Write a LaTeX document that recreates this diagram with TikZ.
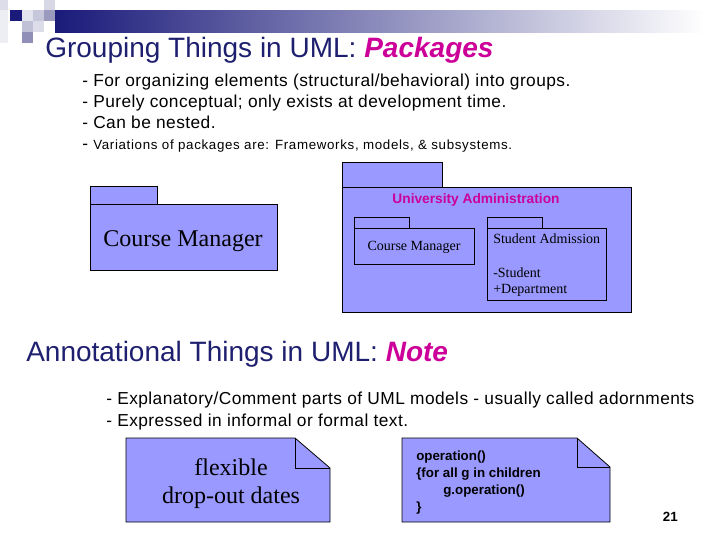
\documentclass[tikz,border=0pt]{standalone}
\usepackage{fontspec}
\setmainfont{Liberation Serif}
\setsansfont{Liberation Sans}
\definecolor{pkgfill}{HTML}{9999FF}
\definecolor{hilite}{HTML}{CC0099}
\definecolor{headblue}{HTML}{1F1F70}
\definecolor{barblue}{HTML}{1A1A7A}
\begin{document}
\begin{tikzpicture}[x=0.75pt,y=-0.75pt,
        pkg/.style={draw=black,fill=pkgfill,line width=0.6pt},
        headline/.style={anchor=base west,inner sep=0pt,text=headblue,font=\sffamily\fontsize{21}{24}\selectfont},
        bullet/.style={anchor=base west,inner sep=0pt,font=\sffamily\fontsize{13}{15}\selectfont\addfontfeature{LetterSpace=2.5}},
        bigserif/.style={anchor=base,inner sep=0pt,font=\rmfamily\fontsize{18}{20}\selectfont},
        smallserif/.style={anchor=base west,inner sep=0pt,font=\rmfamily\fontsize{10.5}{12}\selectfont},
        codeline/.style={anchor=base west,inner sep=0pt,font=\sffamily\bfseries\fontsize{10}{12}\selectfont}]
        \useasboundingbox (0,0) rectangle (720,540);
        %% Corner squares and bar
        \shade[left color=barblue,right color=white] (55,10) rectangle (705,32);
        \fill[headblue!15] (0,0) rectangle (8,10);
        \fill[headblue!8]  (0,10) rectangle (8,43);
        \fill[barblue]     (10,10) rectangle (22,21);
        \fill[headblue!12] (22,10) rectangle (33,21);
        \fill[headblue!25] (33,10) rectangle (44,21);
        \fill[headblue!18] (44,0) rectangle (55,10);
        \fill[headblue!45] (44,10) rectangle (55,21);
        \fill[headblue!28] (22,21) rectangle (33,32);
        \fill[headblue!15] (33,21) rectangle (44,32);
        \fill[headblue!50] (22,32) rectangle (33,43);
        %% Packages
        \node[headline] (pkghead) at (45,57) {Grouping Things in UML: {\bfseries\itshape\color{hilite}Packages}};
        \node[bullet] (pkgone)   at (82,86)  {- For organizing elements (structural/behavioral) into groups.};
        \node[bullet] (pkgtwo)   at (82,107) {- Purely conceptual; only exists at development time.};
        \node[bullet] (pkgthree) at (82,128) {- Can be nested.};
        \node[bullet] (pkgfour)  at (82,149) {- {\fontsize{10}{11}\selectfont\addfontfeature{LetterSpace=5}Variations of packages are: Frameworks, models, \& subsystems.}};
        \draw[pkg] (90,186) rectangle (157,204);
        \draw[pkg] (90,204) rectangle (277,270);
        \node[bigserif] (cmbig) at (183,246) {Course Manager};
        \draw[pkg] (342,162) rectangle (442,187);
        \draw[pkg] (342,187) rectangle (631,312);
        \node[anchor=base,inner sep=0pt,text=hilite,font=\sffamily\bfseries\fontsize{10.3}{12}\selectfont] (uniadmin) at (476,203) {University Administration};
        \draw[pkg] (354,217) rectangle (409,228);
        \draw[pkg] (354,228) rectangle (474,264);
        \node[smallserif,anchor=base] (cmsmall) at (414,250) {Course Manager};
        \draw[pkg] (487,217) rectangle (542,228);
        \draw[pkg] (487,228) rectangle (606,300);
        \node[smallserif] (studadm) at (493,243) {Student Admission};
            \node[smallserif] (studattr) at (493,277) {-Student};
            \node[smallserif] (deptattr) at (493,293) {+Department};
        %% Notes
        \node[headline] (notehead) at (26,361) {Annotational Things in UML: {\bfseries\itshape\color{hilite}Note}};
        \node[bullet] (noteone) at (106,404) {- Explanatory/Comment parts of UML models - usually called adornments};
        \node[bullet] (notetwo) at (106,426) {- Expressed in informal or formal text.};
        \draw[pkg] (126,438) -- (295,438) -- (330,468) -- (330,522) -- (126,522) -- cycle;
            \draw[line width=0.6pt] (295,438) -- (295,468) -- (330,468);
        \node[bigserif] (flexnote) at (231,475) {flexible};
        \node[bigserif] (dropnote) at (231,503) {drop-out dates};
        \draw[pkg] (402,438) -- (577,438) -- (610,467) -- (610,522) -- (402,522) -- cycle;
            \draw[line width=0.6pt] (577,438) -- (577,467) -- (610,467);
        \node[codeline] (opline)   at (416,460) {operation()};
        \node[codeline] (forline)  at (416,477) {\{for all g in children};
        \node[codeline] (gopline)  at (443,494) {g.operation()};
        \node[codeline] (endline)  at (416,511) {\}};
        %% Page number
        \node[anchor=base east,inner sep=0pt,font=\sffamily\bfseries\fontsize{10}{12}\selectfont] (pagenum) at (678,521) {21};
    \end{tikzpicture}
\end{document}
